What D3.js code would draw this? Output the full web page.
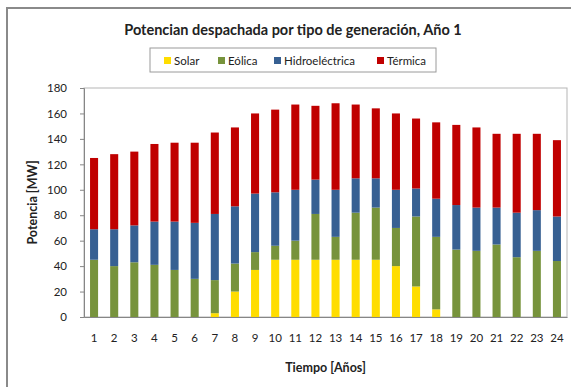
<!DOCTYPE html>
<html>
<head>
<meta charset="utf-8">
<script src="https://cdn.jsdelivr.net/npm/d3@7"></script>
<style>
  html, body { margin: 0; padding: 0; background: #fff; }
  svg { display: block; }
  text { font-family: Lato, "Open Sans", sans-serif; fill: #222; }
</style>
</head>
<body>
<svg id="chart" width="571" height="387"></svg>
<script>
// Dispatched power per generation type, year 1 (MW)
const years = ["1","2","3","4","5","6","7","8","9","10","11","12","13","14","15","16","17","18","19","20","21","22","23","24"];
const solar   = [0,0,0,0,0,0,3,20,37,45,45,45,45,45,45,40,24,6,0,0,0,0,0,0];
const eolica  = [45,40,43,41,37,30,26,22,14,11,15,36,18,37,41,30,55,57,53,52,57,47,52,44];
const hidro   = [24,29,29,34,38,44,52,45,46,42,40,27,37,27,23,30,22,30,35,34,29,35,32,35];
const termica = [56,59,58,61,62,63,64,62,63,65,67,58,68,58,55,60,55,60,63,63,58,62,60,60];
const seriesNames = ["Solar", "Eólica", "Hidroeléctrica", "Térmica"];
const seriesColors = ["#FFDD00", "#77933C", "#376092", "#C00000"];
const yTicks = [0,20,40,60,80,100,120,140,160,180];

const rows = years.map((y, i) => ({
  year: y, Solar: solar[i], "Eólica": eolica[i], "Hidroeléctrica": hidro[i], "Térmica": termica[i]
}));

const svg = d3.select("#chart");
const W = 571, H = 387;
const m = { left: 84, right: 4, top: 88, bottom: 70 };
const pw = 567 - m.left, ph = 317 - m.top;

// outer chart frame (runs past the right and bottom edges)
svg.append("rect")
  .attr("x", 7).attr("y", 8).attr("width", W + 20).attr("height", H + 20)
  .attr("fill", "none").attr("stroke", "#8a8a8a").attr("stroke-width", 2);

const x = d3.scaleBand().domain(years).range([m.left, m.left + pw]).paddingInner(0.6).paddingOuter(0.3);
const y = d3.scaleLinear().domain([0, 180]).range([m.top + ph, m.top]);

// plot area border
svg.append("rect")
  .attr("x", m.left).attr("y", m.top).attr("width", pw).attr("height", ph)
  .attr("fill", "none").attr("stroke", "#b5b5b5").attr("stroke-width", 1);

const stack = d3.stack().keys(seriesNames)(rows);

svg.append("g").selectAll("g")
  .data(stack).join("g")
  .attr("fill", (d, i) => seriesColors[i])
  .selectAll("rect")
  .data(d => d).join("rect")
  .attr("x", d => x(d.data.year))
  .attr("width", x.bandwidth())
  .attr("y", d => y(d[1]))
  .attr("height", d => y(d[0]) - y(d[1]));

// y axis
const yAxis = svg.append("g")
  .attr("transform", `translate(${m.left},0)`)
  .call(d3.axisLeft(y).tickValues(yTicks).tickSize(4).tickPadding(13));
yAxis.select(".domain").attr("stroke", "#868686");
yAxis.selectAll(".tick line").attr("stroke", "#868686");
yAxis.selectAll("text").attr("font-size", 11.5).attr("fill", "#333");

// x axis
const xAxis = svg.append("g")
  .attr("transform", `translate(0,${m.top + ph})`)
  .call(d3.axisBottom(x).tickSize(0).tickPadding(17));
xAxis.select(".domain").attr("stroke", "#868686");
xAxis.selectAll("text").attr("font-size", 11.5).attr("fill", "#333");

// titles
svg.append("text")
  .attr("x", 293).attr("y", 35).attr("text-anchor", "middle")
  .attr("font-size", 14.5).attr("font-weight", "bold")
  .text("Potencian despachada por tipo de generación, Año 1");

svg.append("text")
  .attr("x", m.left + pw / 2).attr("y", 372).attr("text-anchor", "middle")
  .attr("font-size", 12.5).attr("font-weight", "bold")
  .text("Tiempo [Años]");

svg.append("text")
  .attr("transform", `translate(37,${m.top + ph / 2}) rotate(-90)`)
  .attr("text-anchor", "middle")
  .attr("font-size", 12.5).attr("font-weight", "bold")
  .text("Potencia [MW]");

// legend
const lg = svg.append("g");
lg.append("rect")
  .attr("x", 150).attr("y", 48).attr("width", 286).attr("height", 24)
  .attr("fill", "#fff").attr("stroke", "#9a9a9a").attr("stroke-width", 1);
const legendX = [164, 218, 274, 377];
seriesNames.forEach((name, i) => {
  lg.append("rect")
    .attr("x", legendX[i]).attr("y", 57).attr("width", 7).attr("height", 7)
    .attr("fill", seriesColors[i]);
  lg.append("text")
    .attr("x", legendX[i] + 10).attr("y", 64.5)
    .attr("font-size", 11.5).attr("fill", "#333")
    .text(name);
});
</script>
</body>
</html>
